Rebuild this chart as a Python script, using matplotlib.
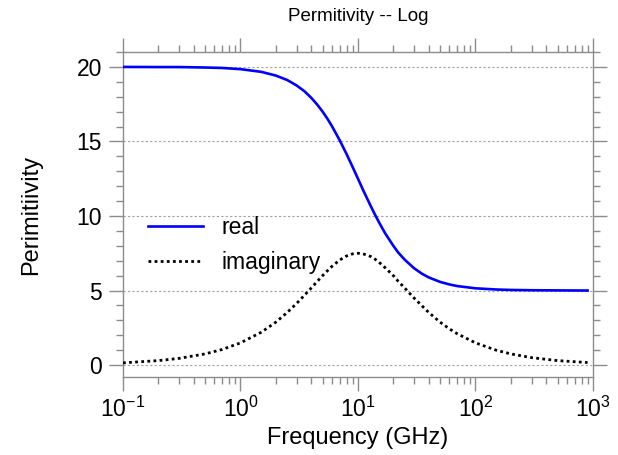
import matplotlib
matplotlib.use('Agg')
import matplotlib.pyplot as plt
from matplotlib.ticker import LogLocator, MultipleLocator, NullFormatter

plt.rcParams['font.family'] = ['Liberation Sans', 'DejaVu Sans']
plt.rcParams['mathtext.fontset'] = 'custom'
plt.rcParams['mathtext.rm'] = 'Liberation Sans'
plt.rcParams['mathtext.it'] = 'Liberation Sans:italic'

# values
freq_ghz = [0.1, 0.2, 0.3, 0.5, 0.7, 1, 1.5, 2, 2.5, 3, 3.5, 4, 4.5, 5, 5.5,
            6, 7, 8, 9, 10, 11, 12, 13, 14, 15, 17, 20, 22, 25, 30, 35, 40,
            50, 60, 70, 100, 150, 200, 300, 500, 900]
real_part = [20.0, 19.99, 19.99, 19.96, 19.93, 19.85, 19.67, 19.42, 19.12,
             18.76, 18.37, 17.93, 17.47, 17.0, 16.52, 16.03, 15.07, 14.15,
             13.29, 12.5, 11.78, 11.15, 10.58, 10.07, 9.62, 8.85, 8.0, 7.55,
             7.07, 6.5, 6.13, 5.88, 5.58, 5.41, 5.30, 5.15, 5.07, 5.04, 5.02,
             5.01, 5.0]
imag_part = [0.15, 0.30, 0.45, 0.75, 1.05, 1.49, 2.20, 2.88, 3.53, 4.13, 4.68,
             5.17, 5.61, 6.0, 6.33, 6.62, 7.05, 7.32, 7.46, 7.5, 7.46, 7.38,
             7.26, 7.10, 6.92, 6.54, 6.0, 5.62, 5.17, 4.5, 3.98, 3.53, 2.88,
             2.43, 2.10, 1.49, 1.00, 0.75, 0.50, 0.30, 0.17]

grid_levels = [0, 5, 10, 15, 20]
gray = '#8c8c8c'


def main():
    fig = plt.figure(figsize=(6.18, 4.55), dpi=100)
    ax = fig.add_axes([0.199, 0.1714, 0.7605, 0.7143])

    for g in grid_levels:
        ax.axhline(g, color='#a0a0a0', lw=0.8, ls=(0, (2, 2)), zorder=1)

    ax.plot(freq_ghz, real_part, color='#0000ff', lw=1.9, label='real', zorder=3)
    ax.plot(freq_ghz, imag_part, color='black', lw=2.0, ls=(0, (1, 1.2)),
            label='imaginary', zorder=3)

    ax.set_xscale('log')
    ax.set_xlim(0.1, 1000)
    ax.set_ylim(-0.8, 21)

    ax.xaxis.set_major_locator(LogLocator(base=10, numticks=10))
    ax.xaxis.set_minor_locator(LogLocator(base=10, subs=range(2, 10), numticks=20))
    ax.xaxis.set_minor_formatter(NullFormatter())
    ax.yaxis.set_major_locator(MultipleLocator(5))
    ax.yaxis.set_minor_locator(MultipleLocator(1))

    for s in ax.spines.values():
        s.set_color(gray)
        s.set_linewidth(1.0)

    ax.tick_params(which='both', direction='out', top=True, right=True,
                   color=gray, width=1.0, labelsize=16.5)
    ax.tick_params(which='major', length=10)
    ax.tick_params(which='minor', length=5)
    ax.tick_params(axis='x', which='major', pad=4)
    ax.tick_params(axis='y', which='major', pad=5)

    ax.set_xlabel('Frequency (GHz)', fontsize=17, labelpad=4)
    ax.set_ylabel('Perimitiivity', fontsize=17, labelpad=25)
    ax.text(0.5, 1.108, 'Permitivity -- Log', transform=ax.transAxes,
            ha='center', va='center', fontsize=13.5)

    ax.legend(loc='center left', bbox_to_anchor=(0.053, 0.406), frameon=False,
              fontsize=16.5, handlelength=2.4, handletextpad=0.8,
              labelspacing=0.5, borderpad=0, borderaxespad=0)

    fig.savefig('out.png', dpi=100)


if __name__ == '__main__':
    main()
